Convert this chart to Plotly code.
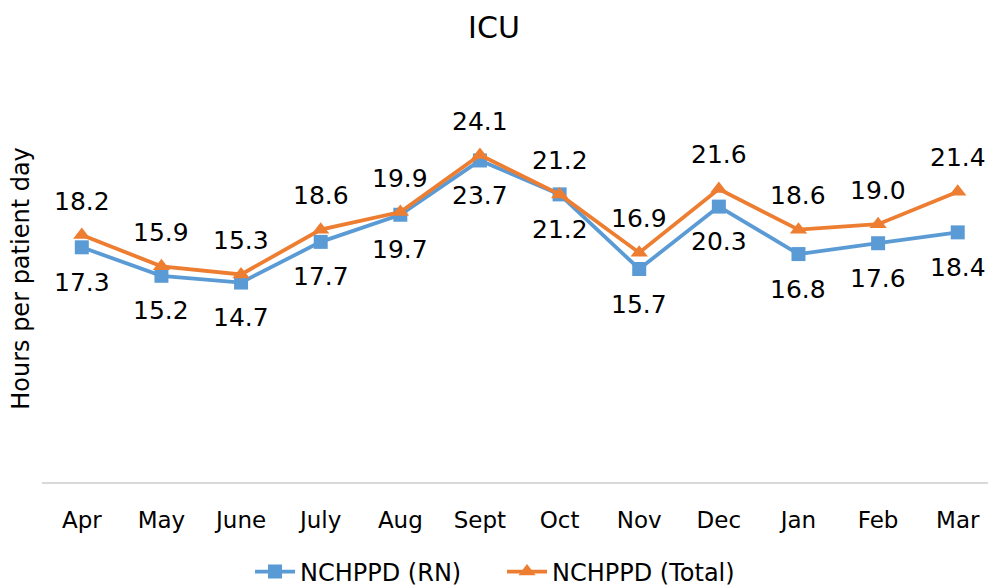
import plotly.graph_objects as go

months = ["Apr", "May", "June", "July", "Aug", "Sept", "Oct", "Nov", "Dec", "Jan", "Feb", "Mar"]
rn_values = [17.3, 15.2, 14.7, 17.7, 19.7, 23.7, 21.2, 15.7, 20.3, 16.8, 17.6, 18.4]
total_values = [18.2, 15.9, 15.3, 18.6, 19.9, 24.1, 21.2, 16.9, 21.6, 18.6, 19.0, 21.4]

BLUE = "#5B9BD5"
ORANGE = "#ED7D31"
SANS = "DejaVu Sans, Liberation Sans, Arial, sans-serif"
LABEL_FONT = dict(family=SANS, size=25, color="#000000")

fig = go.Figure()
fig.add_trace(go.Scatter(
    x=months, y=rn_values, name="NCHPPD (RN)", mode="lines+markers",
    line=dict(color=BLUE, width=3.8),
    marker=dict(symbol="square", size=14, color=BLUE),
))
fig.add_trace(go.Scatter(
    x=months, y=total_values, name="NCHPPD (Total)", mode="lines+markers",
    line=dict(color=ORANGE, width=3.8),
    marker=dict(symbol="triangle-up", size=15, color=ORANGE),
))

annotations = []
for m, v in zip(months, rn_values):
    annotations.append(dict(x=m, y=v, xref="x", yref="y", text=f"{v:.1f}",
                            showarrow=False, yshift=-35, font=LABEL_FONT))
for m, v in zip(months, total_values):
    annotations.append(dict(x=m, y=v, xref="x", yref="y", text=f"{v:.1f}",
                            showarrow=False, yshift=34, font=LABEL_FONT))

fig.update_layout(
    width=988, height=587,
    margin=dict(l=42, r=0, t=75, b=105, autoexpand=False),
    paper_bgcolor="white", plot_bgcolor="white",
    title=dict(text="ICU", x=0.5, xanchor="center", y=0.954, yanchor="middle",
               font=dict(family=SANS, size=30, color="#000000")),
    xaxis=dict(range=[-0.5, 11.38], showgrid=False, zeroline=False,
               showline=True, linecolor="#D9D9D9", linewidth=2,
               ticks="", ticklabelstandoff=16, automargin=False,
               tickfont=dict(family=SANS, size=23, color="#000000"),
               fixedrange=True),
    yaxis=dict(range=[0, 30], showgrid=False, zeroline=False, showline=False,
               showticklabels=False, ticks="", automargin=False,
               title=dict(text="Hours per patient day", standoff=4,
                          font=dict(family=SANS, size=24, color="#000000")),
               fixedrange=True),
    legend=dict(orientation="h", x=0.2199, xanchor="left", y=-0.221, yanchor="middle",
                font=dict(family=SANS, size=24, color="#000000"),
                itemwidth=40, entrywidth=197, entrywidthmode="pixels"),
    annotations=annotations,
    showlegend=True,
)

fig.write_html(
    "out.html",
    config={"displayModeBar": False},
    post_script="document.body.style.margin='0';document.body.style.padding='0';document.body.style.overflow='hidden';",
)
